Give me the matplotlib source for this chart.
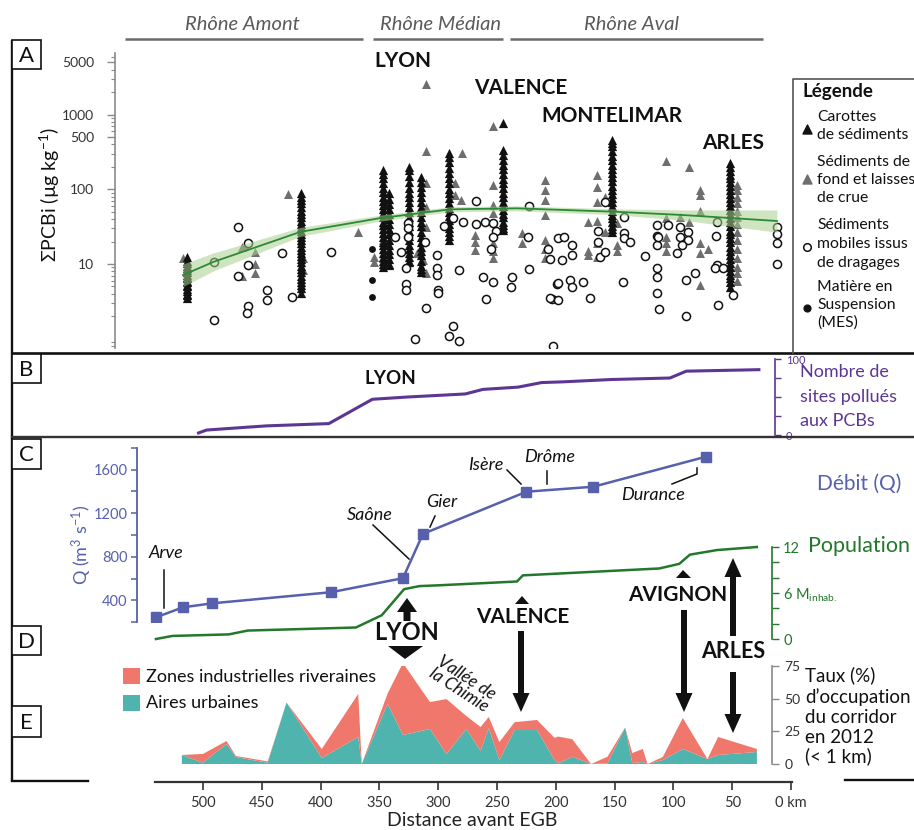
import matplotlib
matplotlib.use('Agg')
import matplotlib.pyplot as plt
import numpy as np
from matplotlib.ticker import FixedLocator, FixedFormatter, NullFormatter, LogLocator
from matplotlib.patches import Rectangle, FancyArrow, Polygon

plt.rcParams['font.family'] = ['Lato', 'DejaVu Sans']
plt.rcParams['mathtext.fontset'] = 'custom'
plt.rcParams['mathtext.rm'] = 'Lato'
plt.rcParams['mathtext.it'] = 'Lato:italic'
plt.rcParams['mathtext.bf'] = 'Lato:bold'

# ------------------------------------------------------------------ data
# Panel A : sum of indicator PCBs (ug/kg) vs distance upstream of EGB (km)
core_km = [514, 417, 347, 342, 325, 315, 291, 245, 152, 52]
core_vals = [
    [3.5, 3.8, 4.0, 4.3, 4.6, 5.0, 5.3, 5.7, 6.0, 6.4, 6.8, 7.2, 7.7, 8.2, 8.8, 9.5, 10.2, 11.0, 12.4],
    [4.1, 4.7, 5.2, 5.7, 6.3, 7.0, 7.8, 8.6, 9.5, 10.5, 11.5, 12.8, 14, 15.5, 17, 19, 21, 23, 25, 28,
     31, 34, 38, 42, 47, 52, 58, 65, 72, 80, 89],
    [9.2, 10, 11, 12.5, 14, 16, 18, 20, 23, 26, 29, 33, 37, 42, 48, 55, 62, 70, 80, 92, 105, 120,
     140, 160, 181],
    [9.6, 10, 11.5, 13.5, 15.5, 18, 21, 25, 29, 34, 40, 47, 55, 64, 75, 89],
    [10.6, 11, 12.5, 14, 16, 18, 21, 24, 28, 32, 37, 43, 50, 58, 67, 78, 90, 105, 125, 150, 180, 198],
    [7.8, 8.5, 9.5, 11, 13, 15, 17, 20, 23, 27, 32, 37, 43, 50, 58, 68, 80, 92, 108, 125, 146],
    [21, 24, 27, 30, 34, 39, 44, 50, 57, 66, 76, 88, 102, 120, 140, 165, 195, 230, 270, 304],
    [28.5, 30, 33, 37, 42, 47, 53, 60, 68, 78, 90, 104, 120, 138, 160, 185, 215, 250, 290, 333, 770],
    [26.8, 29, 32, 36, 41, 46, 52, 59, 67, 76, 86, 98, 112, 128, 145, 165, 190, 215, 245, 280, 330,
     380, 420, 460],
    [4.9, 5.7, 6.4, 7.2, 8.1, 9.2, 10.4, 11.8, 13.3, 15, 17, 19.5, 22, 25, 28, 32, 36, 41, 47, 53, 60,
     68, 77, 87, 98, 110, 125, 140, 158, 178, 200, 225],
]
bed_km = [517, 467, 464, 456, 456, 456, 467, 428, 415, 415, 368, 355, 355, 347, 347,
          310, 310, 310, 310, 310, 313, 310, 318, 286, 286, 281, 280,
          253, 253, 253, 253, 253, 253, 253, 269, 269, 269, 229, 229,
          209, 209, 209, 209, 209, 209, 209, 173, 173, 173,
          165, 165, 165, 165, 165, 165, 158, 158, 148, 148, 148,
          106, 87, 106, 94, 77, 77, 77, 106, 106, 106, 87, 77, 77, 71, 77,
          46, 46, 46, 46, 46, 46, 46, 46, 46, 46, 46, 46, 46, 46]
bed_val = [12, 16.9, 17.9, 14.5, 10, 7.6, 6.9, 86, 11.9, 8.3, 26.7, 12.4, 10.6, 21, 12,
           2600, 330, 121, 58, 31, 11.3, 7.6, 14, 121, 83, 71, 310,
           700, 114, 61, 48, 19, 15, 12, 24.5, 19.6, 15.4, 25.8, 19,
           133, 97, 71, 45, 21, 12, 16, 36, 15, 13,
           155, 107, 67, 38, 19, 12.5, 79, 27, 35, 18, 15,
           240, 200, 41, 43, 98, 85, 52, 23, 19, 15, 36, 19, 14, 16, 5.2,
           114, 97, 80, 65, 52, 42, 34, 27, 21, 16, 12, 9, 7.5, 6]
dredge_km = [491, 470, 462, 462, 470, 433, 446, 446, 462, 463, 491, 424, 391,
             337, 332, 327, 327, 327, 326, 326, 326, 311, 301, 301, 301, 300, 300, 310, 295, 287,
             279, 282, 287, 291, 282, 320,
             268, 268, 260, 253, 251, 253, 255, 262, 253, 259, 237, 238, 224, 223, 223, 207, 205,
             203, 202, 199,
             198, 193, 186, 186, 195, 198, 188, 186, 177, 205, 198, 171,
             158, 142, 142, 142, 137, 164, 164, 162, 158, 143, 124, 114, 105, 114, 114, 113, 94, 88,
             94, 88, 93, 97, 114, 114, 114, 112, 89, 82, 89, 63, 64, 63, 65, 58, 62, 49,
             12, 12, 12, 12]
dredge_val = [10.6, 31, 19, 9.6, 6.9, 14, 4.5, 3.3, 2.7, 2.2, 1.8, 3.6, 14.4,
              23, 14.5, 8.8, 5.4, 4.5, 35, 30, 23, 19.6, 13, 8.8, 7.1, 4.5, 4.1, 2.6, 32, 41,
              36, 8.2, 1.5, 1.1, 0.93, 1.0,
              69, 34, 37, 35, 28, 23, 16, 6.7, 5.7, 3.4, 6.7, 4.9, 23, 8.5, 59, 16, 11.6,
              3.4, 0.8, 5.4,
              22, 23, 18, 13, 11.2, 5.5, 6.1, 4.9, 5.7, 3.5, 3.3, 3.5,
              67, 43, 26, 22, 20, 28, 20, 12.4, 14.5, 5.7, 12.8, 33, 33, 24, 18, 23, 31, 27,
              23, 21, 18, 14, 8.8, 6.7, 4.1, 2.5, 6.1, 7.5, 2.0, 36, 24, 9.6, 8.8, 8.8, 2.8, 3.8,
              31, 25, 19, 10]
mes_km = [356, 356, 356]
mes_val = [16, 6.1, 3.6]
fit_km = [517, 491, 417, 350, 290, 233, 148, 92, 12]
fit_val = [7.1, 10.7, 27, 41, 54, 55.7, 50, 45.3, 37.7]
fit_lo = [5.0, 8.1, 23.5, 37.4, 50, 51.5, 45.6, 38.5, 26.7]
fit_hi = [10.0, 14.1, 31, 45, 58.5, 60, 54.8, 53, 53]

# Panel B : cumulative number of PCB-polluted sites
pcb_km = [505, 497, 465, 446, 393, 356, 326, 277, 262, 232, 212, 193, 153, 103, 89, 26]
pcb_n = [2, 6.5, 10, 12, 15, 47, 50, 54, 60, 63, 69, 70, 73, 75, 84, 86]

# Panel C : discharge (m3/s)
q_km = [540, 517, 492, 391, 330, 313, 225, 168, 72]
q_val = [243, 335, 372, 474, 603, 1010, 1398, 1444, 1721]

# Panel D : cumulative population (millions)
pop_km = [540, 526, 478, 462, 370, 348, 329, 316, 300, 233, 228, 112, 95, 86, 63, 29]
pop_m = [0.0, 0.4, 0.6, 1.1, 1.5, 3.1, 6.5, 6.9, 7.0, 7.5, 8.3, 9.2, 9.8, 11.0, 11.6, 12.0]

# Panel E : corridor occupation (%) in 2012
occ_km = [518, 500, 480, 472, 458, 445, 429, 399, 368, 365, 343, 330, 307, 293, 276, 264, 257,
          248, 235, 216, 201, 198, 186, 170, 156, 141, 135, 126, 122, 109, 92, 71, 62, 29]
urban = [6.9, 1.0, 15.3, 5.4, 3.0, 1.0, 47, 4.6, 20.7, 0, 46, 22.2, 26.8, 7.7, 26.8, 10, 27.5,
         3, 26, 26, 3, 0.5, 5.6, 0, 0.5, 28, 0.8, 1.5, 0, 3, 11.5, 3.8, 6.9, 9.2]
industrial = [0, 6.7, 2.3, 0.7, 1.0, 1.0, 0, 6.9, 32.9, 0, 8, 55.1, 20.6, 42, 9.9, 18.3, 8.5,
              13.8, 6, 7.7, 17, 20.5, 13.4, 0, 5.1, 0, 7.6, 10, 0, 2.4, 23.7, 0, 13.8, 2.3]

x_ticks = [500, 450, 400, 350, 300, 250, 200, 150, 100, 50, 0]
x_labels = ['500', '450', '400', '350', '300', '250', '200', '150', '100', '50', '0 km']

# ------------------------------------------------------------------ style
BLUE = '#5660ad'
GREEN = '#23782c'
PURPLE = '#5d3592'
SALMON = '#ef776b'
TEAL = '#4fb4ae'
DARK = '#222222'
GREYTXT = '#5a5a5a'

W, H = 914, 830
fig = plt.figure(figsize=(W / 100, H / 100), dpi=100)


def rect(x0, y0, x1, y1):
    return [x0 / W, 1 - y1 / H, (x1 - x0) / W, (y1 - y0) / H]


PX0, KM_PX = 791.0, 1.176


def km(px):
    return (PX0 - px) / KM_PX


def make_ax(x0, y0, x1, y1):
    ax = fig.add_axes(rect(x0, y0, x1, y1))
    ax.set_xlim(km(x0), km(x1))
    ax.patch.set_alpha(0)
    for s in ax.spines.values():
        s.set_visible(False)
    ax.set_xticks([])
    return ax


# ---- Panel A
axA = make_ax(115, 53, 791, 348)
axA.set_yscale('log')
axA.set_ylim(0.75, 6700)
axA.spines['left'].set_visible(True)
axA.spines['left'].set_color('#8a8a8a')
axA.spines['left'].set_linewidth(1.2)
axA.yaxis.set_major_locator(FixedLocator([10, 100, 500, 1000, 5000]))
axA.yaxis.set_major_formatter(FixedFormatter(['10', '100', '500', '1000', '5000']))
axA.yaxis.set_minor_locator(LogLocator(base=10, subs=np.arange(2, 10)))
axA.yaxis.set_minor_formatter(NullFormatter())
axA.tick_params(axis='y', which='major', length=6, width=1, color='#8a8a8a',
                labelsize=10, labelcolor='#333333', pad=9)
axA.tick_params(axis='y', which='minor', length=3, width=0.8, color='#8a8a8a')

for k, vals in zip(core_km, core_vals):
    axA.scatter([k] * len(vals), vals, marker='^', s=44, color='#111111', lw=0, zorder=3)
axA.scatter(bed_km, bed_val, marker='^', s=42, color='#6e6e6e', lw=0, zorder=2.5)
axA.scatter(dredge_km, dredge_val, marker='o', s=34, facecolor='white',
            edgecolor='#111111', lw=1.1, zorder=3.5)
axA.scatter(mes_km, mes_val, marker='o', s=24, color='#111111', lw=0, zorder=3.5)
axA.fill_between(fit_km, fit_lo, fit_hi, color='#a9d18e', alpha=0.55, lw=0, zorder=4)
axA.plot(fit_km, fit_val, color='#2a8a36', lw=1.3, zorder=5)

# ---- Panel B
axB = make_ax(155, 359, 775, 435)
axB.set_ylim(0, 100)
axB.spines['right'].set_visible(True)
axB.spines['right'].set_color(PURPLE)
axB.spines['right'].set_linewidth(1.2)
axB.yaxis.tick_right()
axB.set_yticks([0, 25, 50, 75, 100])
axB.set_yticklabels(['0', '', '', '', '100'])
axB.tick_params(axis='y', length=4, width=1, color=PURPLE, labelcolor=PURPLE,
                labelsize=8, pad=4)
axB.plot(pcb_km, pcb_n, color=PURPLE, lw=2.2, solid_capstyle='butt')

# ---- Panel C
axC = make_ax(137, 448, 791, 622)
axC.set_ylim(200, 1800)
axC.spines['left'].set_visible(True)
axC.spines['left'].set_color(BLUE)
axC.spines['left'].set_linewidth(1.3)
axC.set_yticks(np.arange(200, 1801, 200))
axC.set_yticklabels(['' if v % 400 else str(v) for v in range(200, 1801, 200)])
axC.tick_params(axis='y', length=4, width=1.1, color=BLUE, labelcolor=BLUE,
                labelsize=10.5, pad=3)
axC.plot(q_km, q_val, color=BLUE, lw=1.8, marker='s', ms=7.5, mfc=BLUE, mec=BLUE, zorder=3)

# ---- Panel D
axD = make_ax(155, 547, 772, 639)
axD.set_ylim(0, 12)
axD.spines['right'].set_visible(True)
axD.spines['right'].set_color(GREEN)
axD.spines['right'].set_linewidth(1.2)
axD.yaxis.tick_right()
axD.set_yticks([0, 2, 4, 6, 8, 10, 12])
axD.set_yticklabels(['0', '', '', r'6 M$_{\mathregular{inhab.}}$', '', '', '12'])
axD.tick_params(axis='y', length=5, width=1, color=GREEN, labelcolor=GREEN,
                labelsize=10.5, pad=3)
axD.plot(pop_km, pop_m, color=GREEN, lw=1.8, clip_on=False)

# ---- Panel E
axE = make_ax(155, 666, 772, 764)
axE.set_ylim(0, 75)
axE.spines['right'].set_visible(True)
axE.spines['right'].set_color('#8a8a8a')
axE.spines['right'].set_linewidth(1.2)
axE.yaxis.tick_right()
axE.set_yticks([0, 25, 50, 75])
axE.tick_params(axis='y', length=5, width=1, color='#8a8a8a', labelcolor='#333333',
                labelsize=10, pad=4)
axE.stackplot(occ_km, urban, industrial, colors=[TEAL, SALMON], lw=0)

# ---- X axis
axX = make_ax(155, 781, 792, 782)
axX.set_ylim(0, 1)
axX.set_yticks([])
axX.spines['bottom'].set_visible(True)
axX.spines['bottom'].set_color('#333333')
axX.spines['bottom'].set_linewidth(1.6)
axX.set_xticks(x_ticks)
axX.set_xticklabels(x_labels)
axX.tick_params(axis='x', length=6, width=1.2, color='#333333', labelcolor='#333333',
                labelsize=10.5, pad=4)

# ---- overlay (pixel coordinates)
axO = fig.add_axes([0, 0, 1, 1])
axO.set_xlim(0, W)
axO.set_ylim(H, 0)
axO.axis('off')
axO.patch.set_alpha(0)
axO.set_zorder(10)

# frame lines
axO.plot([12, 12], [40, 781], color='#111111', lw=1.7, solid_capstyle='butt')
axO.plot([12, 914], [353, 353], color='#111111', lw=1.9)
axO.plot([12, 914], [437, 437], color='#333333', lw=1.7)
axO.plot([12, 88], [781, 781], color='#111111', lw=1.7)
axO.plot([845, 914], [780, 780], color='#111111', lw=1.7)

# river sections
for (a, b, c, lab) in [(125, 363, 242, 'Rhône Amont'), (373, 503, 441, 'Rhône Médian'),
                       (510, 763, 632, 'Rhône Aval')]:
    axO.plot([a, b], [39, 39], color='#6a6a6a', lw=1.8, solid_capstyle='butt')
    axO.text(c, 25, lab, ha='center', va='center', fontsize=14.5, style='italic',
             color=GREYTXT)

# panel letters
for (y0, y1, L) in [(40, 69, 'A'), (354, 383, 'B'), (439, 469, 'C'), (626, 655, 'D'),
                    (706, 737, 'E')]:
    axO.add_patch(Rectangle((12, y0), 29, y1 - y0, facecolor='white', edgecolor='#111111',
                            lw=1.2, zorder=5))
    axO.text(26.5, (y0 + y1) / 2 + 1, L, ha='center', va='center', fontsize=16,
             color='#111111', zorder=6)

# axis titles
axO.text(50, 195, r'ΣPCBi (µg kg$^{\mathregular{-1}}$)', rotation=90, ha='center',
         va='center', fontsize=14, color='#111111')
axO.text(82, 545, r'Q (m$^{\mathregular{3}}$ s$^{\mathregular{-1}}$)', rotation=90,
         ha='center', va='center', fontsize=13, color=BLUE)
axO.text(472, 820, 'Distance avant EGB', ha='center', va='center', fontsize=14,
         color='#222222')

# city labels in A
for (x, y, t) in [(403, 61, 'LYON'), (521, 88, 'VALENCE'), (612, 116, 'MONTELIMAR'),
                  (733, 143, 'ARLES')]:
    axO.text(x, y, t, ha='center', va='center', fontsize=15, fontweight='bold',
             color='#111111')

# legend of A
axO.plot([793, 793, 914], [353, 79, 79], color='#555555', lw=1.2)
axO.text(803, 91, 'Légende', ha='left', va='center', fontsize=13.5, fontweight='bold',
         color='#111111')
leg_items = [
    (129, ['Carottes', 'de sédiments'], [117, 135], dict(marker='^', s=42, color='#111111')),
    (179, ['Sédiments de', 'fond et laisses', 'de crue'], [162, 180, 198],
     dict(marker='^', s=42, color='#6e6e6e')),
    (247, ['Sédiments', 'mobiles issus', 'de dragages'], [225, 244, 263],
     dict(marker='o', s=30, facecolor='white', edgecolor='#111111', lw=1.1)),
    (308, ['Matière en', 'Suspension', '(MES)'], [287, 305, 323],
     dict(marker='o', s=24, color='#111111')),
]
for (my, lines, ys, kw) in leg_items:
    axO.scatter([807], [my], **kw)
    for ln, yy in zip(lines, ys):
        axO.text(817, yy, ln, ha='left', va='center', fontsize=11.3, color='#111111')

# Panel B labels
axO.text(390, 378, 'LYON', ha='center', va='center', fontsize=13.5, fontweight='bold',
         color='#111111')
for t, yy in zip(['Nombre de', 'sites pollués', 'aux PCBs'], [372, 397, 421]):
    axO.text(800, yy, t, ha='left', va='center', fontsize=13, color=PURPLE)

# Panel C labels
axO.text(859, 484, 'Débit (Q)', ha='center', va='center', fontsize=15, color=BLUE)
axO.text(808, 546, 'Population', ha='left', va='center', fontsize=15.5, color=GREEN)
rivers = [(166, 553, 'Arve', [(164, 570), (164, 608)]),
          (370, 515, 'Saône', [(373, 525), (409, 559)]),
          (442, 502, 'Gier', [(435, 516), (430, 527)]),
          (486, 465, 'Isère', [(507, 470), (521, 484)]),
          (550, 457, 'Drôme', [(547, 471), (547, 484)]),
          (653, 495, 'Durance', [(672, 484), (697, 474), (697, 468)])]
for (x, y, t, pts) in rivers:
    axO.text(x, y, t, ha='center', va='center', fontsize=13, style='italic', color='#111111')
    axO.plot([p[0] for p in pts], [p[1] for p in pts], color='#111111', lw=1.1)

# City arrows (C/D/E)
ARW = '#111111'


def arrow(x, y0, y1, width=6, hw=17, hl=19):
    axO.add_patch(FancyArrow(x, y0, 0, y1 - y0, width=width, head_width=hw, head_length=hl,
                             length_includes_head=True, color=ARW, lw=0))


axO.text(406, 632, 'LYON', ha='center', va='center', fontsize=17, fontweight='bold', color=ARW)
arrow(407, 621, 598, width=7, hw=20, hl=14)
axO.add_patch(Polygon([(388, 646), (423, 646), (405, 659)], closed=True, color=ARW, lw=0))

axO.text(523, 617, 'VALENCE', ha='center', va='center', fontsize=15, fontweight='bold',
         color=ARW)
axO.add_patch(Polygon([(515, 604), (529, 604), (522, 596)], closed=True, color=ARW, lw=0))
arrow(521, 631, 712)

axO.text(678, 595, 'AVIGNON', ha='center', va='center', fontsize=15, fontweight='bold',
         color=ARW)
axO.add_patch(Polygon([(676, 578), (691, 578), (683, 570)], closed=True, color=ARW, lw=0))
arrow(684, 610, 712)

axO.text(733, 651, 'ARLES', ha='center', va='center', fontsize=15.5, fontweight='bold', color=ARW)
arrow(733, 636, 558)
arrow(733, 672, 733)

axO.text(463, 684, 'Vallée de\nla Chimie', ha='center', va='center', fontsize=12.5,
         style='italic', rotation=-33, linespacing=0.85, color='#111111')

# Panel E legend + label
axO.add_patch(Rectangle((123, 668), 17, 16, color=SALMON, lw=0))
axO.add_patch(Rectangle((123, 695), 17, 16, color=TEAL, lw=0))
axO.text(146, 677, 'Zones industrielles riveraines', ha='left', va='center', fontsize=13,
         color='#111111')
axO.text(146, 703, 'Aires urbaines', ha='left', va='center', fontsize=13, color='#111111')
for t, yy in zip(['Taux (%)', 'd’occupation', 'du corridor', 'en 2012', '(< 1 km)'],
                 [675, 697, 717, 737, 756]):
    axO.text(805, yy, t, ha='left', va='center', fontsize=13.5, color='#111111')

fig.savefig('out.png', dpi=100)
